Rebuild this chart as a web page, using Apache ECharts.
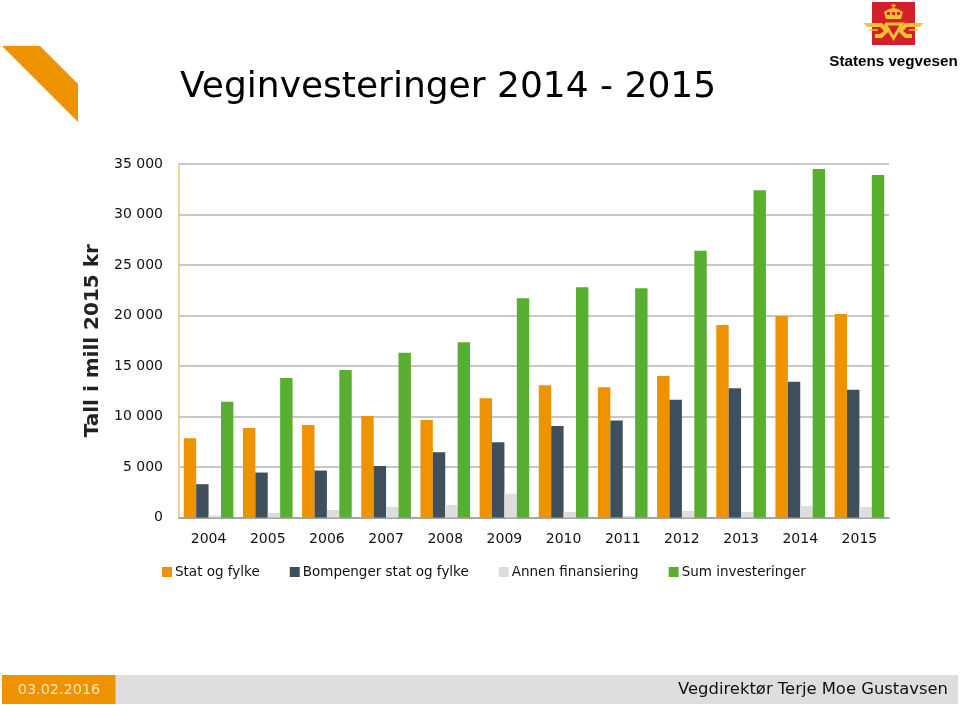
<!DOCTYPE html>
<html><head><meta charset="utf-8">
<style>html,body{margin:0;padding:0;background:#fff}#c{width:960px;height:709px}</style>
<script src="https://cdn.jsdelivr.net/npm/echarts@6/dist/echarts.min.js"></script>
</head><body><div id="c"></div>
<script>
var categories=['2004','2005','2006','2007','2008','2009','2010','2011','2012','2013','2014','2015'];
var statOgFylke=[7850,8850,9150,10050,9650,11800,13100,12900,14000,19050,19950,20150];
var bompenger=[3300,4450,4650,5100,6450,7450,9050,9600,11650,12800,13450,12650];
var annen=[200,450,750,1050,1250,2350,550,150,650,550,1150,1050];
var sum=[11450,13800,14600,16300,17350,21700,22800,22700,26400,32400,34500,33900];
var seriesNames=['Stat og fylke','Bompenger stat og fylke','Annen finansiering','Sum investeringer'];
var colors=['#EE9200','#3F4F5C','#DDDDDD','#58AE2F'];
var font='"DejaVu Sans"';
var gold='#F2C230', red='#D5202A';
var chart=echarts.init(document.getElementById('c'),null,{renderer:'canvas'});
function bar(i,d){return {name:seriesNames[i],type:'bar',data:d,barWidth:12.4,barGap:'0%',itemStyle:{color:colors[i]},animation:false};}
function poly(pts,fill,z){return {type:'polygon',shape:{points:pts},style:{fill:fill},z:z||10,silent:true};}
function line(pts,w,z){return {type:'polyline',shape:{points:pts},style:{stroke:gold,lineWidth:w,fill:null},z:z||11,silent:true};}
function box(x,y,w,h,fill){return {type:'rect',shape:{x:x,y:y,width:w,height:h},style:{fill:fill},z:5,silent:true};}
chart.setOption({
 animation:false,
 backgroundColor:'#fff',
 title:{text:'Veginvesteringer 2014 - 2015',left:175,top:65,textStyle:{fontFamily:font,fontSize:36,fontWeight:'normal',color:'#000'}},
 grid:{left:179,right:71,top:164,bottom:191.5,containLabel:false},
 legend:{left:157,top:560,itemWidth:10,itemHeight:10,itemGap:30,icon:'rect',
   textStyle:{fontFamily:font,fontSize:13.5,color:'#111',padding:[0,0,0,-2]},data:seriesNames},
 xAxis:{type:'category',data:categories,
   axisLine:{lineStyle:{color:'#9a9a9a',width:1.5}},axisTick:{show:false},
   axisLabel:{fontFamily:font,fontSize:14,color:'#111',margin:15}},
 yAxis:{type:'value',min:0,max:35000,interval:5000,
   name:'Tall i mill 2015 kr',nameLocation:'middle',nameRotate:90,nameGap:76,
   nameTextStyle:{fontFamily:font,fontSize:20,fontWeight:'bold',color:'#222'},
   axisLine:{show:true,lineStyle:{color:'#F0C27A',width:1.5}},axisTick:{show:false},
   splitLine:{lineStyle:{color:'#b4b4b4',width:1.5}},
   axisLabel:{fontFamily:font,fontSize:14,color:'#111',margin:16,verticalAlign:'middle',lineHeight:12,padding:[0,0,2,0],
     formatter:function(v){return String(v).replace(/\B(?=(\d{3})+$)/g,' ');}}},
 series:[bar(0,statOgFylke),bar(1,bompenger),bar(2,annen),bar(3,sum)],
 graphic:[
   poly([[2,46],[40,46],[78,84],[78,122]],'#EE9200'),
   box(2,675,956,29,'#DEDEDE'),
   box(2,675,113.5,29,'#EE9200'),
   {type:'text',z:11,style:{x:59,y:690,text:'03.02.2016',fill:'#FBE3B8',font:'14.4px "DejaVu Sans"',align:'center',verticalAlign:'middle'}},
   {type:'text',z:11,style:{x:948,y:690,text:'Vegdirektør Terje Moe Gustavsen',fill:'#111',font:'16.4px "DejaVu Sans"',align:'right',verticalAlign:'middle'}},
   box(872,2,43,43,red),
   poly([[863,23],[882,23],[889,31],[882,38],[875,38],[875,34],[880,34],[884,31],[880,27],[868,27]],gold),
   poly([[924,23],[905,23],[898,31],[905,38],[912,38],[912,34],[907,34],[903,31],[907,27],[919,27]],gold),
   line([[869,30],[878,30]],1.5),
   line([[909,30],[918,30]],1.5),
   line([[885,24],[902,24],[893.5,38],[885,24]],3),
   poly([[889.5,26.5],[897.5,26.5],[893.5,33.5]],red,12),
   poly([[884,12],[889,9],[893,8],[898,9],[903,12],[901,19],[886,19]],gold),
   line([[893.5,4],[893.5,9]],1.6),
   line([[891,5.5],[896,5.5]],1.2),
   poly([[887,12],[890,12],[890,15],[887,15]],red,12),
   poly([[892,12],[895,12],[895,15],[892,15]],red,12),
   poly([[897,12],[900,12],[900,15],[897,15]],red,12),
   {type:'text',z:11,style:{x:893.5,y:61.5,text:'Statens vegvesen',fill:'#000',font:'bold 15.2px "Liberation Sans"',align:'center',verticalAlign:'middle'}}
 ]
});
</script></body></html>
